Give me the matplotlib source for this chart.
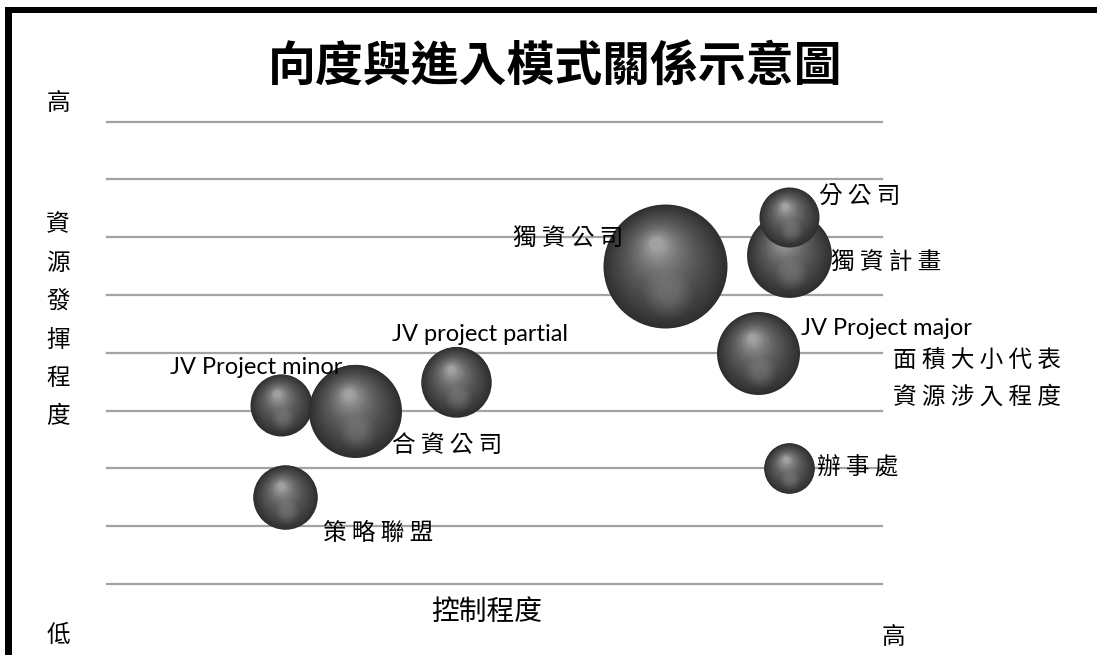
import numpy as np
import matplotlib
matplotlib.use("Agg")
import matplotlib.pyplot as plt
import matplotlib.transforms as mtransforms
from matplotlib.patches import Rectangle

plt.rcParams['font.family'] = ['Noto Sans CJK TC', 'DejaVu Sans']

# ── data ────────────────────────────────────────────────────────────────────
names    = ["獨資公司", "獨資計畫", "分公司", "JV Project major", "辦事處",
            "JV project partial", "JV Project minor", "合資公司", "策略聯盟"]
control  = [7.2, 8.8, 8.8, 8.4, 8.8, 4.5, 2.25, 3.2, 2.3]     # 控制程度
resource = [5.5, 5.7, 6.35, 4.0, 2.0, 3.5, 3.1, 3.0, 1.5]     # 資源發揮程度
involve  = [9.6, 4.5, 2.25, 4.3, 1.6, 3.1, 2.4, 5.4, 2.6]     # 面積 = 資源涉入程度

title = "向度與進入模式關係示意圖"
y_label = "資源發揮程度"
x_label = "控制程度"
note = "面積大小代表\n資源涉入程度"

# label offsets (pixels, from bubble centre to label's left/centre)
label_off = [(-152, 28), (42, -8), (30, 20), (43, 24), (28, 0),
             (-64, 47), (-111, 37), (37, -35), (38, -36)]

W, H = 1097, 655
fig = plt.figure(figsize=(W / 100, H / 100), dpi=100)
ax = fig.add_axes([107 / W, 71 / H, 775 / W, 462.3 / H])
ax.set_xlim(0, 10)
ax.set_ylim(0, 8)
for sp in ax.spines.values():
    sp.set_visible(False)
ax.set_xticks([])
ax.set_yticks(np.arange(0, 9, 1))
ax.tick_params(left=False, labelleft=False)
ax.yaxis.grid(True, color="#a3a3a3", linewidth=1.6)
for gl in ax.get_ygridlines():
    gl.set_clip_on(False)
ax.set_axisbelow(True)

def px(x, y):
    return x / W, 1 - y / H

# ── shaded spheres (layered scatter) ────────────────────────────────────────
SCALE = 830
n_layers = 50
hx, hy = -0.14, 0.36

def gray(t):
    return 0.18 + 0.13 * (1 - (1 - t) ** 3) + 0.32 * t ** 2.5

def shift(dx, dy):
    return mtransforms.offset_copy(ax.transData, fig=fig, x=dx, y=dy, units="points")

for k, (x, y, v) in enumerate(zip(control, resource, involve)):
    s = v * SCALE
    r_pt = np.sqrt(s) / 2
    z = 2 + k * 0.01
    for i in range(n_layers):
        t = i / (n_layers - 1)
        f = 1 - 0.9 * t
        g = gray(t)
        ax.scatter([x], [y], s=s * f * f, color=(g, g, g), linewidths=0,
                   transform=shift(hx * t * r_pt, hy * t * r_pt), zorder=z, clip_on=False)
    # soft reflection at the bottom
    for i in range(8):
        f = 0.4 - 0.035 * i
        ax.scatter([x], [y], s=s * f * f, color="white", alpha=0.018, linewidths=0,
                   transform=shift(0.05 * r_pt, -0.45 * r_pt), zorder=z, clip_on=False)

# ── labels ──────────────────────────────────────────────────────────────────
for name, x, y, (dx, dy) in zip(names, control, resource, label_off):
    if name.startswith("JV"):
        ax.annotate(name, (x, y), xytext=(dx, dy), textcoords="offset pixels",
                    ha="left", va="center", fontsize=17,
                    family=["Lato", "DejaVu Sans"], zorder=5)
    else:
        ax.annotate(" ".join(name), (x, y), xytext=(dx, dy), textcoords="offset pixels",
                    ha="left", va="center", fontsize=17, zorder=5)

# ── figure texts ────────────────────────────────────────────────────────────
fig.text(*px(555, 66), title, ha="center", va="center", fontsize=34.5, fontweight="bold")
fig.text(*px(58, 104), "高", ha="center", va="center", fontsize=17)
for i, ch in enumerate(y_label):
    fig.text(*px(58, 225 + 38.4 * i), ch, ha="center", va="center", fontsize=17)
fig.text(*px(58, 635), "低", ha="center", va="center", fontsize=17)
fig.text(*px(487, 612), x_label, ha="center", va="center", fontsize=20)
fig.text(*px(893, 637), "高", ha="center", va="center", fontsize=17)
for i, line in enumerate(note.split("\n")):
    fig.text(*px(893, 360 + 37 * i), " ".join(line), ha="left", va="center", fontsize=17)

# ── frame ───────────────────────────────────────────────────────────────────
fig.add_artist(Rectangle(px(5, 13), (W - 5) / W, 6 / H, transform=fig.transFigure,
                         color="black", lw=0))
fig.add_artist(Rectangle(px(5, H), 7 / W, (H - 7) / H, transform=fig.transFigure,
                         color="black", lw=0))

fig.savefig("out.png", dpi=100)
